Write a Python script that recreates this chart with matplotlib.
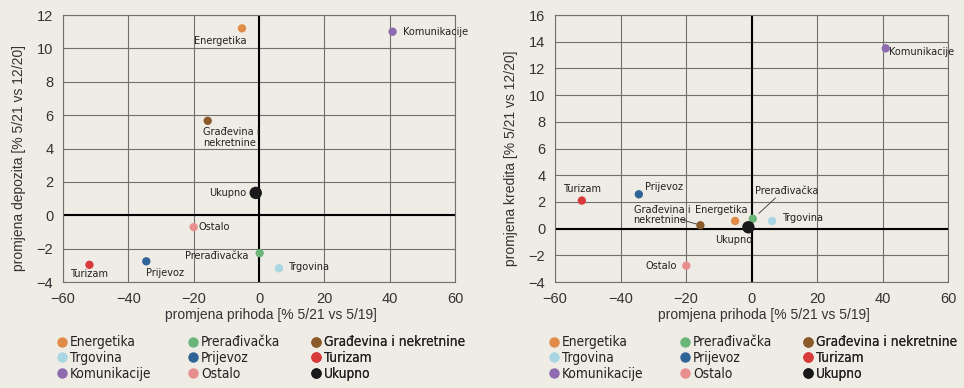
import matplotlib
matplotlib.use("Agg")
import matplotlib.pyplot as plt
from matplotlib.lines import Line2D
from matplotlib import font_manager as fm

# ---- data ----
sectors = ["Energetika", "Trgovina", "Komunikacije", "Prerađivačka", "Prijevoz",
           "Ostalo", "Građevina i nekretnine", "Turizam", "Ukupno"]
colors = ["#E08B48", "#A9D6E3", "#8E6BAE", "#6BB57A", "#2F6499",
          "#E98E8E", "#8B5A2B", "#D93A3A", "#1A1A1A"]
revenue_dep = [-5.2, 6.1, 40.9, 0.2, -34.5, -20.0, -15.7, -51.9, -1.0]
deposits = [11.2, -3.18, 11.0, -2.27, -2.76, -0.71, 5.66, -2.97, 1.34]
revenue_loan = [-5.0, 6.3, 41.0, 0.4, -34.4, -19.9, -15.6, -51.8, -0.95]
loans = [0.57, 0.57, 13.5, 0.74, 2.57, -2.78, 0.25, 2.1, 0.1]

xticks = [-60, -40, -20, 0, 20, 40, 60]
yticks_dep = [-4, -2, 0, 2, 4, 6, 8, 10, 12]
yticks_loan = [-4, -2, 0, 2, 4, 6, 8, 10, 12, 14, 16]

xlabel = "promjena prihoda [% 5/21 vs 5/19]"
ylabel_dep = "promjena depozita [% 5/21 vs 12/20]"
ylabel_loan = "promjena kredita [% 5/21 vs 12/20]"

BG = "#EFECE6"
GRID = "#707070"
REG = ["Liberation Sans", "DejaVu Sans"]

# choose a condensed face if one is installed
fl = fm.fontManager.ttflist
names = {f.name for f in fl}
if "Liberation Sans Narrow" in names:
    NARROW = dict(family=["Liberation Sans Narrow", "DejaVu Sans"])
    nscale = 1.0
elif any(f.name == "DejaVu Sans" and str(f.stretch) in ("condensed", "semi-condensed", "75", "87.5")
         for f in fl):
    NARROW = dict(family=["DejaVu Sans"], stretch="condensed")
    nscale = 0.93
else:
    NARROW = dict(family=["Liberation Sans", "DejaVu Sans"])
    nscale = 0.85

fig = plt.figure(figsize=(9.64, 3.88), dpi=100, facecolor=BG)
W, H = 964, 388

def axes_px(x0, x1, ytop, ybot):
    return fig.add_axes([x0 / W, (H - ybot) / H, (x1 - x0) / W, (ybot - ytop) / H])

ax1 = axes_px(63, 455, 15, 282)
ax2 = axes_px(555, 948, 15, 282)

def style(ax, yticks, ylabel):
    ax.set_facecolor(BG)
    ax.set_xlim(-60, 60)
    ax.set_ylim(yticks[0], yticks[-1])
    ax.set_xticks(xticks)
    ax.set_yticks(yticks)
    ax.grid(True, color=GRID, linewidth=0.8, zorder=0)
    for s in ax.spines.values():
        s.set_color(GRID)
        s.set_linewidth(0.8)
    ax.axhline(0, color="black", linewidth=1.5, zorder=1)
    ax.axvline(0, color="black", linewidth=1.5, zorder=1)
    ax.tick_params(length=0, pad=7, labelsize=10.5, labelcolor="#333333")
    for lab in ax.get_xticklabels() + ax.get_yticklabels():
        lab.set_family(REG)
    ax.set_axisbelow(True)
    ax.set_xlabel(xlabel, fontsize=10, color="#333333", family=REG)
    ax.xaxis.set_label_coords(0.531, -0.125)
    ax.xaxis.label.set_va("center")
    ax.set_ylabel(ylabel, fontsize=10, color="#333333", family=REG)
    ax.yaxis.set_label_coords(-0.113, 0.465)
    ax.yaxis.label.set_va("center")

style(ax1, yticks_dep, ylabel_dep)
style(ax2, yticks_loan, ylabel_loan)

for ax, xs, ys in [(ax1, revenue_dep, deposits), (ax2, revenue_loan, loans)]:
    sizes = [80 if s == "Ukupno" else 36 for s in sectors]
    ax.scatter(xs, ys, c=colors, s=sizes, zorder=3, linewidths=0)

# ---- annotations ----
fs = 8.4 * nscale
def lab(ax, txt, x, y, ha="left", va="center"):
    ax.text(x, y, txt, fontsize=fs, color="#222222",
            ha=ha, va=va, zorder=4, linespacing=1.05, **NARROW)

# left chart
lab(ax1, "Energetika", -11.7, 10.45, ha="center")
lab(ax1, "Komunikacije", 44.0, 11.0)
lab(ax1, "Građevina i\nnekretnine", -17.1, 4.66)
lab(ax1, "Ukupno", -3.8, 1.34, ha="right")
lab(ax1, "Ostalo", -18.6, -0.71)
lab(ax1, "Prerađivačka", -3.1, -2.43, ha="right")
lab(ax1, "Trgovina", 8.8, -3.12)
lab(ax1, "Turizam", -52.0, -3.52, ha="center")
lab(ax1, "Prijevoz", -34.6, -3.45)

# right chart
lab(ax2, "Komunikacije", 42.0, 13.2)
lab(ax2, "Turizam", -51.6, 2.94, ha="center")
lab(ax2, "Prijevoz", -32.6, 3.09)
lab(ax2, "Građevina i\nnekretnine", -36.0, 1.03)
ax2.plot([-21.8, -16.8], [0.7, 0.34], color="#333333", linewidth=0.6, zorder=2)
lab(ax2, "Energetika", -9.2, 1.42, ha="center")
lab(ax2, "Prerađivačka", 1.2, 2.84)
ax2.plot([7.3, 2.3], [2.29, 1.15], color="#333333", linewidth=0.6, zorder=2)
lab(ax2, "Trgovina", 9.4, 0.82)
lab(ax2, "Ukupno", -5.4, -0.83, ha="center")
lab(ax2, "Ostalo", -22.75, -2.78, ha="right")

# ---- legends (three columns per chart) ----
handles = [Line2D([], [], linestyle="none", marker="o", markersize=7.5,
                  markerfacecolor=c, markeredgewidth=0, label=s)
           for s, c in zip(sectors, colors)]

def legends(ax, ax_w_px):
    col_px = [1, 132, 255]
    for i, cx in enumerate(col_px):
        hs = handles[3 * i:3 * i + 3]
        x = (cx - 7) / ax_w_px
        prop = {"size": 10.6 * nscale, **NARROW}
        leg = ax.legend(handles=hs, loc="upper left", bbox_to_anchor=(x, -0.2),
                        frameon=False, handlelength=0.8, handletextpad=0.15,
                        labelspacing=0.12, borderpad=0, borderaxespad=0,
                        prop=prop)
        for t in leg.get_texts():
            t.set_color("#222222")
        ax.add_artist(leg)

legends(ax1, 392)
legends(ax2, 393)

fig.savefig("out.png", dpi=100, facecolor=BG)
